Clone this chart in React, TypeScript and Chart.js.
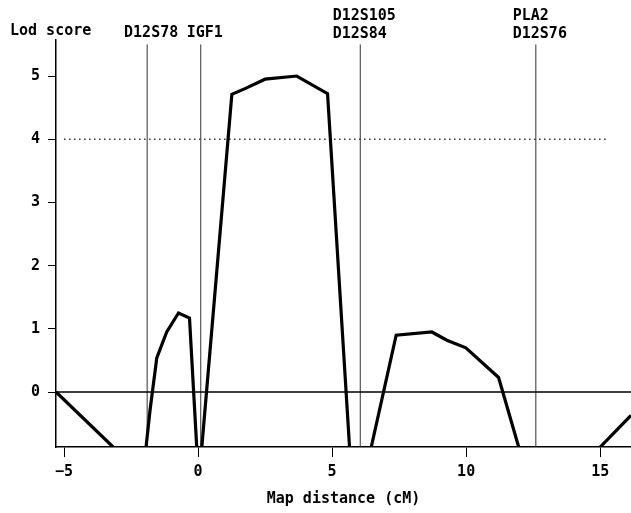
import React, { useEffect, useRef } from "react";
import { Chart, registerables } from "chart.js";

Chart.register(...registerables);

// axis ranges and ticks
const xRange = [-5.3, 16.15];
const yRange = [-0.87, 5.57];
const xTicks = [-5, 0, 5, 10, 15];
const yTicks = [0, 1, 2, 3, 4, 5];

// marker loci
const markerNames = [["D12S78"], ["IGF1"], ["D12S105", "D12S84"], ["PLA2", "D12S76"]];
const markerPos = [-1.9, 0.1, 6.05, 12.6];
const markerTop = 5.5;

// significance threshold
const thresholdLod = 4;
const thresholdRange = [-5.0, 15.25];

// lod score curve segments (clipped at the bottom of the plot)
const seg1X = [-5.3, -3.17];
const seg1Y = [0, -0.87];
const seg2X = [-1.94, -1.79, -1.54, -1.17, -0.73, -0.32, -0.05];
const seg2Y = [-0.87, -0.28, 0.54, 0.95, 1.25, 1.17, -0.87];
const seg3X = [0.14, 1.26, 1.75, 2.5, 3.68, 4.83, 5.65];
const seg3Y = [-0.87, 4.71, 4.8, 4.95, 5.0, 4.72, -0.87];
const seg4X = [6.46, 7.39, 8.72, 9.28, 9.99, 11.21, 11.96];
const seg4Y = [-0.87, 0.9, 0.95, 0.82, 0.7, 0.23, -0.87];
const seg5X = [15.0, 16.15];
const seg5Y = [-0.87, -0.37];

const FONT = "'DejaVu Sans Mono', monospace";

const pts = (xs: number[], ys: number[]) => xs.map((x, i) => ({ x, y: ys[i] }));

export default function App() {
  const ref = useRef<HTMLCanvasElement | null>(null);

  useEffect(() => {
    if (!ref.current) return;
    const curve = (xs: number[], ys: number[]) => ({
      data: pts(xs, ys),
      borderColor: "#000",
      borderWidth: 3.2,
      pointRadius: 0,
      tension: 0,
      order: 0,
    });
    const markerSets = markerPos.map((p) => ({
      data: [
        { x: p, y: yRange[0] },
        { x: p, y: markerTop },
      ],
      borderColor: "#333",
      borderWidth: 1,
      pointRadius: 0,
      order: 2,
    }));

    const labelPlugin = {
      id: "labels",
      afterDraw(chart: any) {
        const ctx = chart.ctx;
        const xs = chart.scales.x;
        ctx.save();
        ctx.fillStyle = "#000";
        ctx.font = `bold 15px ${FONT}`;
        ctx.textBaseline = "alphabetic";
        ctx.textAlign = "left";
        ctx.fillText("Lod score", 10, 35);
        markerNames.forEach((lines, i) => {
          const px = xs.getPixelForValue(markerPos[i]);
          const w = Math.max(...lines.map((t) => ctx.measureText(t).width));
          const left = px - w / 2 + 4;
          const base = lines.length === 1 ? 37 : 20;
          lines.forEach((t, j) => ctx.fillText(t, left, base + j * 18));
        });
        ctx.restore();
      },
    };

    const chart = new Chart(ref.current, {
      type: "line",
      data: {
        datasets: [
          curve(seg1X, seg1Y),
          curve(seg2X, seg2Y),
          curve(seg3X, seg3Y),
          curve(seg4X, seg4Y),
          curve(seg5X, seg5Y),
          {
            data: pts(thresholdRange, [thresholdLod, thresholdLod]),
            borderColor: "#333",
            borderWidth: 1.5,
            borderDash: [1.5, 3.5],
            pointRadius: 0,
            order: 1,
          },
          {
            data: pts(xRange, [0, 0]),
            borderColor: "#000",
            borderWidth: 1.3,
            pointRadius: 0,
            order: 1,
          },
          ...markerSets,
        ] as any,
      },
      options: {
        animation: false,
        responsive: false,
        layout: { padding: { top: 40, right: 0, left: 0, bottom: 0 } },
        plugins: { legend: { display: false }, tooltip: { enabled: false } },
        scales: {
          x: {
            type: "linear",
            min: xRange[0],
            max: xRange[1],
            afterBuildTicks: (s: any) => {
              s.ticks = xTicks.map((v) => ({ value: v }));
            },
            afterFit: (s: any) => {
              s.height = 66;
            },
            grid: { drawOnChartArea: false, drawTicks: true, tickLength: 10, color: "#000", lineWidth: 1 },
            border: { display: true, color: "#000", width: 1.5 },
            ticks: {
              color: "#000",
              padding: 6,
              maxRotation: 0,
              font: { family: FONT, size: 15, weight: "bold" },
              callback: (v: any) => (Number(v) < 0 ? "\u2212" + Math.abs(Number(v)) : String(v)),
            },
            title: {
              display: true,
              text: "Map distance (cM)",
              color: "#000",
              font: { family: FONT, size: 15, weight: "bold" },
              padding: { top: 0, bottom: 5 },
            },
          },
          y: {
            type: "linear",
            min: yRange[0],
            max: yRange[1],
            afterBuildTicks: (s: any) => {
              s.ticks = yTicks.map((v) => ({ value: v }));
            },
            afterFit: (s: any) => {
              s.width = 56;
            },
            grid: { drawOnChartArea: false, drawTicks: true, tickLength: 8, color: "#000", lineWidth: 1 },
            border: { display: true, color: "#000", width: 1.5 },
            ticks: {
              color: "#000",
              padding: 8,
              font: { family: FONT, size: 15, weight: "bold" },
            },
          },
        },
      } as any,
      plugins: [labelPlugin],
    });
    return () => chart.destroy();
  }, []);

  return (
    <div style={{ position: "absolute", left: 0, top: 0, width: 631, height: 513, background: "#fff" }}>
      <canvas ref={ref} width={631} height={513} style={{ display: "block" }} />
    </div>
  );
}
